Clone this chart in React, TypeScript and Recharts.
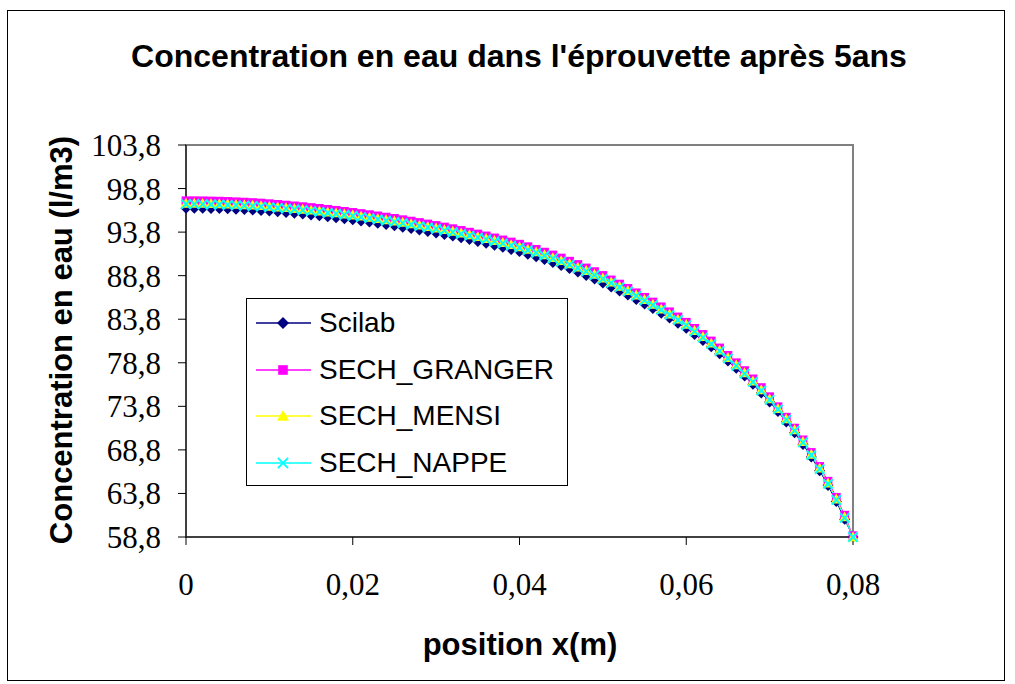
import React from 'react';
import {
  LineChart,
  Line,
  XAxis,
  YAxis,
  ReferenceArea,
} from 'recharts';

// ─── Data ─────────────────────────────────────────────────────────────────────

const positions = [
  0, 0.001, 0.002, 0.003, 0.004, 0.005, 0.006, 0.007, 0.008, 0.009,
  0.01, 0.011, 0.012, 0.013, 0.014, 0.015, 0.016, 0.017, 0.018, 0.019,
  0.02, 0.021, 0.022, 0.023, 0.024, 0.025, 0.026, 0.027, 0.028, 0.029,
  0.03, 0.031, 0.032, 0.033, 0.034, 0.035, 0.036, 0.037, 0.038, 0.039,
  0.04, 0.041, 0.042, 0.043, 0.044, 0.045, 0.046, 0.047, 0.048, 0.049,
  0.05, 0.051, 0.052, 0.053, 0.054, 0.055, 0.056, 0.057, 0.058, 0.059,
  0.06, 0.061, 0.062, 0.063, 0.064, 0.065, 0.066, 0.067, 0.068, 0.069,
  0.07, 0.071, 0.072, 0.073, 0.074, 0.075, 0.076, 0.077, 0.078, 0.079,
  0.08,
];

const scilab = [
  96.55, 96.55, 96.54, 96.52, 96.5, 96.47, 96.43, 96.39, 96.34, 96.28,
  96.21, 96.13, 96.05, 95.96, 95.87, 95.77, 95.67, 95.56, 95.45, 95.33,
  95.21, 95.08, 94.95, 94.81, 94.67, 94.52, 94.37, 94.21, 94.05, 93.88,
  93.71, 93.53, 93.34, 93.14, 92.94, 92.73, 92.51, 92.28, 92.05, 91.81,
  91.56, 91.27, 90.97, 90.65, 90.32, 89.97, 89.61, 89.23, 88.83, 88.41,
  87.97, 87.51, 87.05, 86.57, 86.07, 85.56, 85.03, 84.49, 83.93, 83.35,
  82.75, 82.06, 81.37, 80.63, 79.84, 79.0, 78.16, 77.27, 76.33, 75.34,
  74.3, 73.2, 72.01, 70.77, 69.43, 67.99, 66.4, 64.71, 62.87, 60.83,
  58.8,
];

const sechGranger = [
  97.4, 97.4, 97.39, 97.37, 97.35, 97.32, 97.28, 97.24, 97.19, 97.13,
  97.06, 96.98, 96.9, 96.81, 96.72, 96.62, 96.52, 96.41, 96.3, 96.18,
  96.06, 95.93, 95.8, 95.66, 95.52, 95.37, 95.22, 95.06, 94.9, 94.73,
  94.56, 94.38, 94.19, 93.99, 93.79, 93.58, 93.36, 93.13, 92.9, 92.66,
  92.41, 92.12, 91.82, 91.5, 91.17, 90.82, 90.46, 90.08, 89.68, 89.26,
  88.82, 88.31, 87.83, 87.34, 86.83, 86.31, 85.77, 85.22, 84.65, 84.06,
  83.45, 82.75, 82.05, 81.3, 80.5, 79.65, 78.8, 77.9, 76.95, 75.95,
  74.9, 73.75, 72.55, 71.3, 69.95, 68.5, 66.9, 65.2, 63.35, 61.3,
  58.95,
];

const sechMensi = [
  97.1, 97.1, 97.09, 97.07, 97.05, 97.02, 96.98, 96.94, 96.89, 96.83,
  96.76, 96.68, 96.6, 96.51, 96.42, 96.32, 96.22, 96.11, 96.0, 95.88,
  95.76, 95.63, 95.5, 95.36, 95.22, 95.07, 94.92, 94.76, 94.6, 94.43,
  94.26, 94.08, 93.89, 93.69, 93.49, 93.28, 93.06, 92.83, 92.6, 92.36,
  92.11, 91.82, 91.52, 91.2, 90.87, 90.52, 90.16, 89.78, 89.38, 88.96,
  88.52, 88.06, 87.58, 87.09, 86.58, 86.06, 85.52, 84.97, 84.4, 83.81,
  83.2, 82.5, 81.8, 81.05, 80.25, 79.4, 78.55, 77.65, 76.7, 75.7,
  74.65, 73.55, 72.35, 71.1, 69.75, 68.3, 66.7, 65.0, 63.15, 61.1,
  58.8,
];

const sechNappe = [
  97.0, 97.0, 96.99, 96.97, 96.95, 96.92, 96.88, 96.84, 96.79, 96.73,
  96.66, 96.58, 96.5, 96.41, 96.32, 96.22, 96.12, 96.01, 95.9, 95.78,
  95.66, 95.53, 95.4, 95.26, 95.12, 94.97, 94.82, 94.66, 94.5, 94.33,
  94.16, 93.98, 93.79, 93.59, 93.39, 93.18, 92.96, 92.73, 92.5, 92.26,
  92.01, 91.72, 91.42, 91.1, 90.77, 90.42, 90.06, 89.68, 89.28, 88.86,
  88.42, 87.96, 87.48, 86.99, 86.48, 85.96, 85.42, 84.87, 84.3, 83.71,
  83.1, 82.4, 81.7, 80.95, 80.15, 79.3, 78.45, 77.55, 76.6, 75.6,
  74.55, 73.45, 72.25, 71.0, 69.65, 68.2, 66.6, 64.9, 63.05, 61.0,
  58.8,
];

const xTicks = [0, 0.02, 0.04, 0.06, 0.08];
const yTicks = [58.8, 63.8, 68.8, 73.8, 78.8, 83.8, 88.8, 93.8, 98.8, 103.8];

const data = positions.map((x, i) => ({
  x,
  scilab: scilab[i],
  granger: sechGranger[i],
  mensi: sechMensi[i],
  nappe: sechNappe[i],
}));

// ─── Markers ──────────────────────────────────────────────────────────────────

type Shape = 'diamond' | 'square' | 'triangle' | 'cross';

function Marker({ shape, cx, cy, color, r = 5 }: { shape: Shape; cx: number; cy: number; color: string; r?: number }) {
  if (shape === 'diamond') {
    return <path d={`M${cx},${cy - r}L${cx + r},${cy}L${cx},${cy + r}L${cx - r},${cy}Z`} fill={color} />;
  }
  if (shape === 'square') {
    const s = r * 0.8;
    return <rect x={cx - s} y={cy - s} width={2 * s} height={2 * s} fill={color} />;
  }
  if (shape === 'triangle') {
    return <path d={`M${cx},${cy - r}L${cx + r},${cy + r * 0.8}L${cx - r},${cy + r * 0.8}Z`} fill={color} />;
  }
  const s = r * 0.85;
  return (
    <path
      d={`M${cx - s},${cy - s}L${cx + s},${cy + s}M${cx - s},${cy + s}L${cx + s},${cy - s}`}
      stroke={color}
      strokeWidth={2}
      fill="none"
    />
  );
}

const dotFor = (shape: Shape, color: string) => (props: any) => {
  const { cx, cy, index } = props;
  if (cx == null || cy == null) return <g key={index} />;
  return (
    <g key={index}>
      <Marker shape={shape} cx={cx} cy={cy} color={color} r={5.5} />
    </g>
  );
};

const series: { key: string; name: string; color: string; shape: Shape }[] = [
  { key: 'scilab', name: 'Scilab', color: '#000080', shape: 'diamond' },
  { key: 'granger', name: 'SECH_GRANGER', color: '#FF00FF', shape: 'square' },
  { key: 'mensi', name: 'SECH_MENSI', color: '#FFFF00', shape: 'triangle' },
  { key: 'nappe', name: 'SECH_NAPPE', color: '#00FFFF', shape: 'cross' },
];

const fmt = (v: number) => String(v).replace('.', ',');

const sans = '"Liberation Sans", Arial, sans-serif';
const serif = '"Liberation Serif", "Times New Roman", serif';

function LegendBox() {
  return (
    <div
      style={{
        position: 'absolute',
        left: 246,
        top: 298,
        width: 322,
        height: 188,
        border: '1px solid #000',
        background: '#fff',
        boxSizing: 'border-box',
        paddingTop: 1,
      }}
    >
      {series.map((s) => (
        <div key={s.key} style={{ display: 'flex', alignItems: 'center', height: 46.5 }}>
          <svg width={72} height={20} style={{ flex: 'none' }}>
            <line x1={9} y1={10} x2={64} y2={10} stroke={s.color} strokeWidth={1.5} />
            <Marker shape={s.shape} cx={36} cy={10} color={s.color} r={6} />
          </svg>
          <span style={{ fontFamily: sans, fontSize: 28, color: '#000', whiteSpace: 'nowrap' }}>
            {s.name}
          </span>
        </div>
      ))}
    </div>
  );
}

// ─── Chart ────────────────────────────────────────────────────────────────────

export default function App() {
  return (
    <div
      style={{
        position: 'absolute',
        left: 0,
        top: 0,
        width: 1015,
        height: 684,
        background: '#fff',
        overflow: 'hidden',
      }}
    >
      <div
        style={{
          position: 'absolute',
          left: 7,
          top: 10,
          width: 998,
          height: 671,
          border: '1px solid #000',
          boxSizing: 'border-box',
        }}
      />
      <div
        style={{
          position: 'absolute',
          left: 0,
          top: 38,
          width: 1038,
          textAlign: 'center',
          fontFamily: sans,
          fontWeight: 'bold',
          fontSize: 32,
          whiteSpace: 'nowrap',
        }}
      >
        Concentration en eau dans l'éprouvette après 5ans
      </div>
      <div
        style={{
          position: 'absolute',
          left: 62 - 250,
          top: 340 - 18,
          width: 500,
          height: 36,
          lineHeight: '36px',
          textAlign: 'center',
          transform: 'rotate(-90deg)',
          fontFamily: sans,
          fontWeight: 'bold',
          fontSize: 31,
          whiteSpace: 'nowrap',
        }}
      >
        Concentration en eau (l/m3)
      </div>
      <div
        style={{
          position: 'absolute',
          left: 520 - 200,
          top: 627,
          width: 400,
          textAlign: 'center',
          fontFamily: sans,
          fontWeight: 'bold',
          fontSize: 31,
        }}
      >
        position x(m)
      </div>
      <div style={{ position: 'absolute', left: 0, top: 0 }}>
        <LineChart
          width={1015}
          height={684}
          data={data}
          margin={{ top: 145, right: 162, left: 0, bottom: 87 }}
        >
          <ReferenceArea
            x1={0}
            x2={0.08}
            y1={58.8}
            y2={103.8}
            fill="none"
            stroke="#808080"
            strokeWidth={2}
            ifOverflow="visible"
          />
          <XAxis
            dataKey="x"
            type="number"
            domain={[0, 0.08]}
            ticks={xTicks}
            tickFormatter={fmt}
            height={60}
            tickSize={8}
            tickMargin={28}
            stroke="#000"
            tick={{ fill: '#000', fontSize: 31, fontFamily: serif }}
          />
          <YAxis
            type="number"
            domain={[58.8, 103.8]}
            ticks={yTicks}
            tickFormatter={fmt}
            width={186}
            tickSize={8}
            tickMargin={17}
            stroke="#000"
            interval={0}
            tick={{ fill: '#000', fontSize: 31, fontFamily: serif }}
          />
          {series.map((s) => (
            <Line
              key={s.key}
              dataKey={s.key}
              name={s.name}
              stroke={s.color}
              strokeWidth={1}
              dot={dotFor(s.shape, s.color)}
              activeDot={false}
              isAnimationActive={false}
            />
          ))}
        </LineChart>
      </div>
      <LegendBox />
    </div>
  );
}
